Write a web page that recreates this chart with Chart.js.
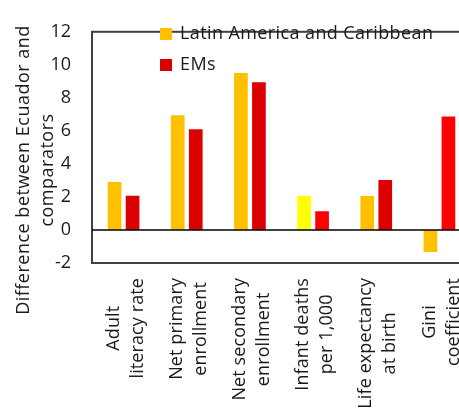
<!DOCTYPE html>
<html>
<head>
<meta charset="utf-8">
<script src="https://cdn.jsdelivr.net/npm/chart.js@4"></script>
<style>
  html, body { margin: 0; padding: 0; background: #fff; overflow: hidden; }
  #wrap { width: 459px; height: 411px; overflow: hidden; position: relative; }
  #wrap canvas { display: block; }
</style>
</head>
<body>
<div id="wrap"><canvas id="chart" width="480" height="411"></canvas></div>
<script>
// categories, two lines each as in the original
const categories = [
  ['Adult', 'literacy rate'],
  ['Net primary', 'enrollment'],
  ['Net secondary', 'enrollment'],
  ['Infant deaths', 'per 1,000'],
  ['Life expectancy', 'at birth'],
  ['Gini', 'coefficient'],
];
const seriesNames = ['Latin America and Caribbean', 'EMs'];
const lacValues = [2.9, 6.95, 9.5, 2.05, 2.05, -1.33];
const emValues = [2.07, 6.1, 8.95, 1.13, 3.03, 6.87];
const lacColors = ['#FFC000', '#FFC000', '#FFC000', '#FFFF00', '#FFC000', '#FFC000'];
const emColors = ['#DD0000', '#DD0000', '#DD0000', '#FF0000', '#DD0000', '#FF0000'];
const legendColors = ['#FFC000', '#DD0000'];
const yTicks = [-2, 0, 2, 4, 6, 8, 10, 12];
const yTitle = ['Difference between Ecuador and', 'comparators'];

const FONT = "'Open Sans', 'Noto Sans', sans-serif";
const FONT_SIZE = 18;

// frame, zero line, legend and the rotated labels
const decor = {
  id: 'decor',
  afterDatasetsDraw(chart) {
    const { ctx, chartArea: a, scales: { x, y } } = chart;
    ctx.save();
    ctx.strokeStyle = '#404040';
    ctx.lineWidth = 2;
    ctx.strokeRect(a.left, a.top, a.right - a.left, a.bottom - a.top);

    ctx.strokeStyle = '#000';
    ctx.lineWidth = 1.5;
    const y0 = y.getPixelForValue(0);
    ctx.beginPath();
    ctx.moveTo(a.left, y0);
    ctx.lineTo(a.right, y0);
    ctx.stroke();

    ctx.font = `${FONT_SIZE}px ${FONT}`;
    ctx.letterSpacing = '0.4px';
    ctx.textBaseline = 'middle';
    ctx.textAlign = 'left';
    // legend inside plot
    seriesNames.forEach((name, i) => {
      const cy = 34 + i * 31;
      ctx.fillStyle = legendColors[i];
      ctx.fillRect(160, cy - 6, 12, 12);
      ctx.fillStyle = '#1a1a1a';
      ctx.fillText(name, 180, cy);
    });

    // category labels, rotated, lines centred
    ctx.letterSpacing = '0.1px';
    ctx.textAlign = 'center';
    const lh = 24;
    categories.forEach((lines, i) => {
      const cx = x.getPixelForValue(i);
      const w = Math.max(...lines.map(l => ctx.measureText(l).width));
      ctx.save();
      ctx.translate(cx, a.bottom + 15 + w / 2);
      ctx.rotate(-Math.PI / 2);
      lines.forEach((l, j) => {
        ctx.fillText(l, 0, (j - (lines.length - 1) / 2) * lh + 2);
      });
      ctx.restore();
    });

    // y title
    ctx.letterSpacing = '0.5px';
    ctx.save();
    ctx.translate(36, 170);
    ctx.rotate(-Math.PI / 2);
    yTitle.forEach((l, j) => {
      ctx.fillText(l, 0, (j - (yTitle.length - 1) / 2) * lh);
    });
    ctx.restore();
    ctx.restore();
  }
};

new Chart(document.getElementById('chart'), {
  type: 'bar',
  data: {
    labels: categories.map(c => c.join(' ')),
    datasets: [
      { label: seriesNames[0], data: lacValues, backgroundColor: lacColors },
      { label: seriesNames[1], data: emValues, backgroundColor: emColors },
    ],
  },
  options: {
    responsive: false,
    animation: false,
    categoryPercentage: 0.57,
    barPercentage: 0.76,
    layout: { padding: { left: 0, top: 18, right: 9, bottom: 148 } },
    plugins: { legend: { display: false }, tooltip: { enabled: false } },
    scales: {
      x: { display: false },
      y: {
        min: -2,
        max: 12,
        afterFit: s => { s.width = 92; },
        afterBuildTicks: s => { s.ticks = yTicks.map(v => ({ value: v })); },
        border: { display: false },
        grid: { display: false, drawTicks: false },
        ticks: {
          padding: 21,
          color: '#1a1a1a',
          font: { family: FONT, size: 18 },
        },
      },
    },
  },
  plugins: [decor],
});
</script>
</body>
</html>
